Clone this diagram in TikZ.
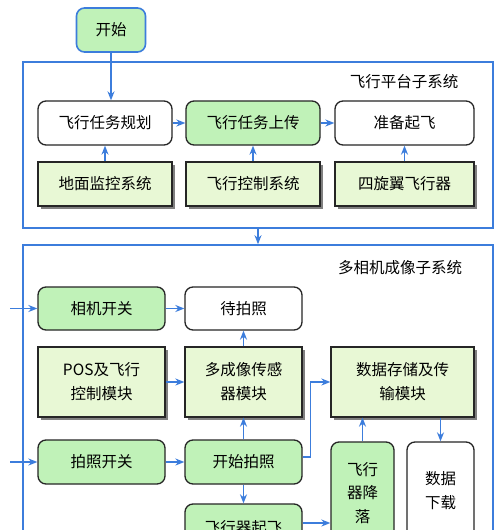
\documentclass[tikz,border=0pt]{standalone}
\usepackage{fontspec}
\setmainfont{Noto Sans CJK SC}
\usetikzlibrary{arrows.meta,shadows}
\definecolor{lineblue}{HTML}{3C7DDC}
\definecolor{gfill}{HTML}{C0F2B8}
\definecolor{lfill}{HTML}{E8F8D5}
\begin{document}
\begin{tikzpicture}[x=1pt,y=-1pt,
  every node/.style={font=\fontsize{15.5}{24}\selectfont, inner sep=0pt, align=center},
  rgreen/.style={draw=black!85, line width=1.3pt, fill=gfill, rounded corners=8pt},
  rwhite/.style={draw=black!85, line width=1.3pt, fill=white, rounded corners=8pt},
  sbox/.style={draw=black!85, line width=1.3pt, fill=lfill,
     drop shadow={shadow xshift=3pt, shadow yshift=-3pt, fill=black!50, opacity=1}},
  sysbox/.style={draw=lineblue, line width=1.6pt},
  arr/.style={draw=lineblue, line width=1.6pt, -{Stealth[length=9pt,width=7pt]}},
  ttl/.style={font=\fontsize{15.5}{18}\selectfont},
]
\clip (0,0) rectangle (500,530);
\fill[white] (0,0) rectangle (500,530);
% system boxes
\node[sysbox, minimum width=470pt, minimum height=166pt] (sys1) at (258,145) {};
\node[sysbox, minimum width=470pt, minimum height=300pt] (sys2) at (258,395) {};
\node[ttl] (t1) at (404,82) {飞行平台子系统};
\node[ttl] (t2) at (400,268) {多相机成像子系统};
% start
\node[draw=lineblue, line width=1.6pt, fill=gfill, rounded corners=8pt,
      minimum width=69pt, minimum height=44pt] (start) at (111,30) {开始};
% flight platform row 1
\node[rwhite, minimum width=134pt, minimum height=44pt] (plan) at (105,123) {飞行任务规划};
\node[rgreen, minimum width=134pt, minimum height=44pt] (upl) at (253,123) {飞行任务上传};
\node[rwhite, minimum width=139pt, minimum height=44pt] (ready) at (404.5,123) {准备起飞};
% row 2
\node[sbox, minimum width=134pt, minimum height=44pt] (gnd) at (105,184) {地面监控系统};
\node[sbox, minimum width=134pt, minimum height=44pt] (fcs) at (253,184) {飞行控制系统};
\node[sbox, minimum width=139pt, minimum height=44pt] (quad) at (404.5,184) {四旋翼飞行器};
% multi camera
\node[rgreen, minimum width=127pt, minimum height=43pt] (cam) at (101.5,308.5) {相机开关};
\node[rwhite, minimum width=117pt, minimum height=43pt] (wait) at (243.5,308.5) {待拍照};
\node[sbox, minimum width=127pt, minimum height=70pt] (pos) at (101.5,382) {POS及飞行\\控制模块};
\node[sbox, minimum width=117pt, minimum height=70pt] (sens) at (243.5,382) {多成像传感\\器模块};
\node[sbox, minimum width=143pt, minimum height=70pt] (store) at (402.5,382) {数据存储及传\\输模块};
\node[rgreen, minimum width=127pt, minimum height=44pt] (sw) at (101.5,462) {拍照开关};
\node[rgreen, minimum width=117pt, minimum height=44pt] (shoot) at (243.5,462) {开始拍照};
\node[rgreen, minimum width=117pt, minimum height=48pt] (takeoff) at (243.5,528) {飞行器起飞};
\node[rgreen, minimum width=63pt, minimum height=102pt, font=\fontsize{15.5}{23.5}\selectfont] (land) at (362.5,493) {飞行\\器降\\落};
\node[rwhite, minimum width=67pt, minimum height=98pt] (dl) at (440.5,491) {数据\\下载};
\coordinate (in1) at (10,308.5);
\coordinate (in2) at (10,462);
% arrows
\draw[arr] (start.south) -- (start.south |- plan.north);
\draw[arr] (plan) -- (upl);
\draw[arr] (upl) -- (ready);
\draw[arr] (gnd) -- (plan);
\draw[arr] (fcs) -- (upl);
\draw[arr] (quad) -- (ready);
\draw[arr] (sys1.south) -- (sys2.north);
\draw[arr] (in1) -- (cam.west);
\draw[arr] (in2) -- (sw.west);
\draw[arr] (cam) -- (wait);
\draw[arr] (pos) -- (sens);
\draw[arr] (sens) -- (wait);
\draw[arr] (shoot) -- (sens);
\draw[arr] ([yshift=5pt]shoot.east) -- ++(8,0) |- (store.west);
\draw[arr] (shoot) -- (takeoff);
\draw[arr] ([yshift=5pt]takeoff.east) -- ([yshift=5pt]takeoff.east -| land.west);
\draw[arr] (land.north) -- (land.north |- store.south);
\draw[arr] (dl.north |- store.south) -- (dl.north);
\draw[arr] (sw) -- (shoot);
\end{tikzpicture}
\end{document}
